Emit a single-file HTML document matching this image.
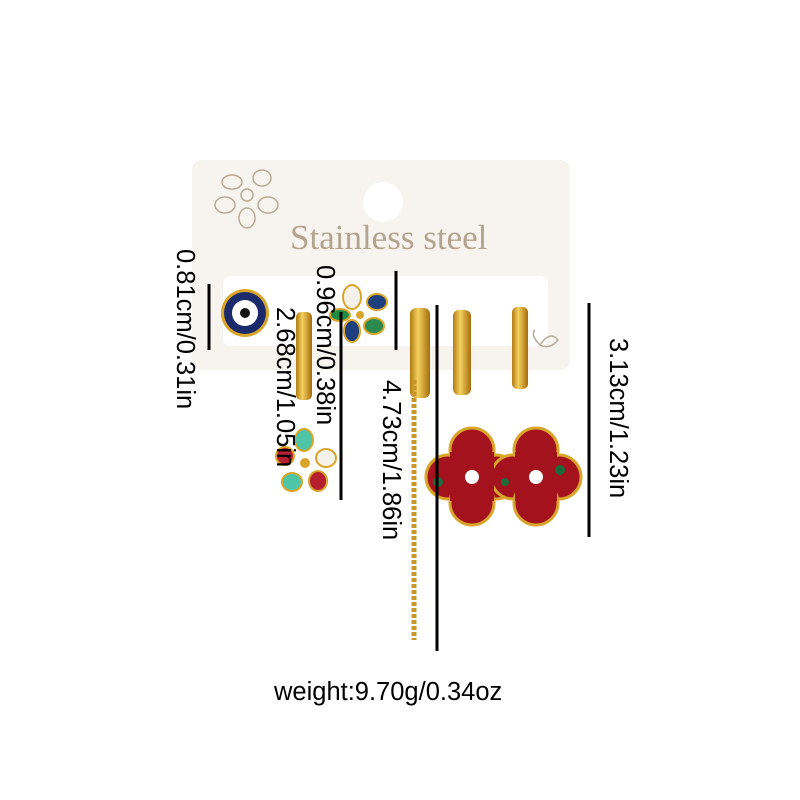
<!DOCTYPE html>
<html><head><style>
body{margin:0;background:#fff;}
.w{position:relative;width:800px;height:800px;overflow:hidden;background:#fff;font-family:"Liberation Sans",Arial,sans-serif;}
.r{position:absolute;transform-origin:0 0;transform:rotate(90deg);font-size:25.5px;color:#000;white-space:nowrap;line-height:1;}
</style></head><body><div class="w">
<svg width="800" height="800" style="position:absolute;left:0;top:0">
<defs>
<linearGradient id="g" x1="0" x2="1"><stop offset="0" stop-color="#b07a10"/><stop offset=".4" stop-color="#f5d060"/><stop offset="1" stop-color="#a46d0c"/></linearGradient>
</defs>
<rect x="192" y="160" width="378" height="210" rx="10" fill="#f7f3ee"/>
<circle cx="383" cy="202" r="20" fill="#fff"/>
<rect x="223" y="276" width="325" height="70" rx="8" fill="#fff"/>
<g fill="none" stroke="#b9ab98" stroke-width="1.5">
<circle cx="247" cy="195" r="6"/>
<ellipse cx="232" cy="182" rx="10" ry="7"/><ellipse cx="262" cy="178" rx="9" ry="8"/><ellipse cx="268" cy="205" rx="10" ry="8"/><ellipse cx="247" cy="218" rx="8" ry="10"/><ellipse cx="225" cy="205" rx="10" ry="8"/>
<path d="M540 345 q10 -15 18 -5 q-8 10 -18 5 q-10 -10 -5 -15"/>
</g>
<text x="290" y="249" font-family="Liberation Serif,serif" font-size="35" fill="#b2a48f">Stainless steel</text>
<circle cx="245" cy="313" r="24" fill="#d9a52a"/><circle cx="245" cy="313" r="21" fill="#1b2a6b"/><circle cx="245" cy="313" r="13" fill="#fff"/><circle cx="245" cy="313" r="5" fill="#111"/>
<ellipse cx="352" cy="297" rx="9" ry="12" fill="#f4f1ea" stroke="#d9a52a" stroke-width="2"/>
<ellipse cx="377" cy="302" rx="10" ry="8" fill="#1e3f7e" stroke="#d9a52a" stroke-width="2"/>
<ellipse cx="374" cy="326" rx="10" ry="8" fill="#2d8a4f" stroke="#d9a52a" stroke-width="2"/>
<ellipse cx="352" cy="331" rx="8" ry="11" fill="#1e3f7e" stroke="#d9a52a" stroke-width="2"/>
<ellipse cx="340" cy="315" rx="10" ry="6" fill="#1d8a45" stroke="#d9a52a" stroke-width="2"/>
<circle cx="360" cy="315" r="4" fill="#d9a52a"/>
<rect x="296" y="312" width="16" height="88" rx="5" fill="url(#g)"/>
<rect x="410" y="308" width="20" height="90" rx="6" fill="url(#g)"/>
<rect x="453" y="310" width="18" height="85" rx="6" fill="url(#g)"/>
<rect x="512" y="307" width="16" height="82" rx="5" fill="url(#g)"/>
<g stroke="#d9a52a" stroke-width="2">
<ellipse cx="304" cy="440" rx="9" ry="11" fill="#4fc5a8"/><ellipse cx="326" cy="458" rx="10" ry="9" fill="#f5f2ea"/><ellipse cx="318" cy="481" rx="9" ry="10" fill="#b52030"/><ellipse cx="292" cy="482" rx="10" ry="9" fill="#4fc5a8"/><ellipse cx="285" cy="456" rx="9" ry="9" fill="#b52030"/>
</g>
<circle cx="305" cy="463" r="5" fill="#d9a52a"/>
<line x1="414" y1="380" x2="414" y2="640" stroke="#c9952a" stroke-width="5" stroke-dasharray="4 2"/>
<g stroke="#d9a52a" stroke-width="3" fill="#a3121d">
<circle cx="472" cy="450" r="22"/><circle cx="448" cy="477" r="22"/><circle cx="496" cy="477" r="22"/><circle cx="472" cy="503" r="22"/>
<circle cx="536" cy="450" r="22"/><circle cx="513" cy="477" r="22"/><circle cx="559" cy="477" r="22"/><circle cx="536" cy="503" r="22"/>
</g>
<g fill="#a3121d"><rect x="450" y="452" width="44" height="49"/><rect x="515" y="452" width="42" height="49"/></g>
<g fill="#fff"><circle cx="472" cy="477" r="7"/><circle cx="536" cy="477" r="7"/></g>
<g fill="#1e6b3a"><circle cx="438" cy="482" r="5"/><circle cx="505" cy="482" r="4"/><circle cx="560" cy="470" r="5"/></g>
<g stroke="#000" stroke-width="3">
<line x1="209" y1="284" x2="209" y2="350"/>
<line x1="396" y1="271" x2="396" y2="350"/>
<line x1="341" y1="312" x2="341" y2="500"/>
<line x1="437" y1="305" x2="437" y2="651"/>
<line x1="589" y1="303" x2="589" y2="537"/>
</g>
</svg>
<div class="r" style="left:197px;top:249px">0.81cm/0.31in</div>
<div class="r" style="left:337px;top:265px">0.96cm/0.38in</div>
<div class="r" style="left:297px;top:307px">2.68cm/1.05in</div>
<div class="r" style="left:403px;top:380px">4.73cm/1.86in</div>
<div class="r" style="left:630px;top:338px">3.13cm/1.23in</div>
<div style="position:absolute;left:274px;top:678px;font-size:25.5px">weight:9.70g/0.34oz</div>
</div></body></html>
